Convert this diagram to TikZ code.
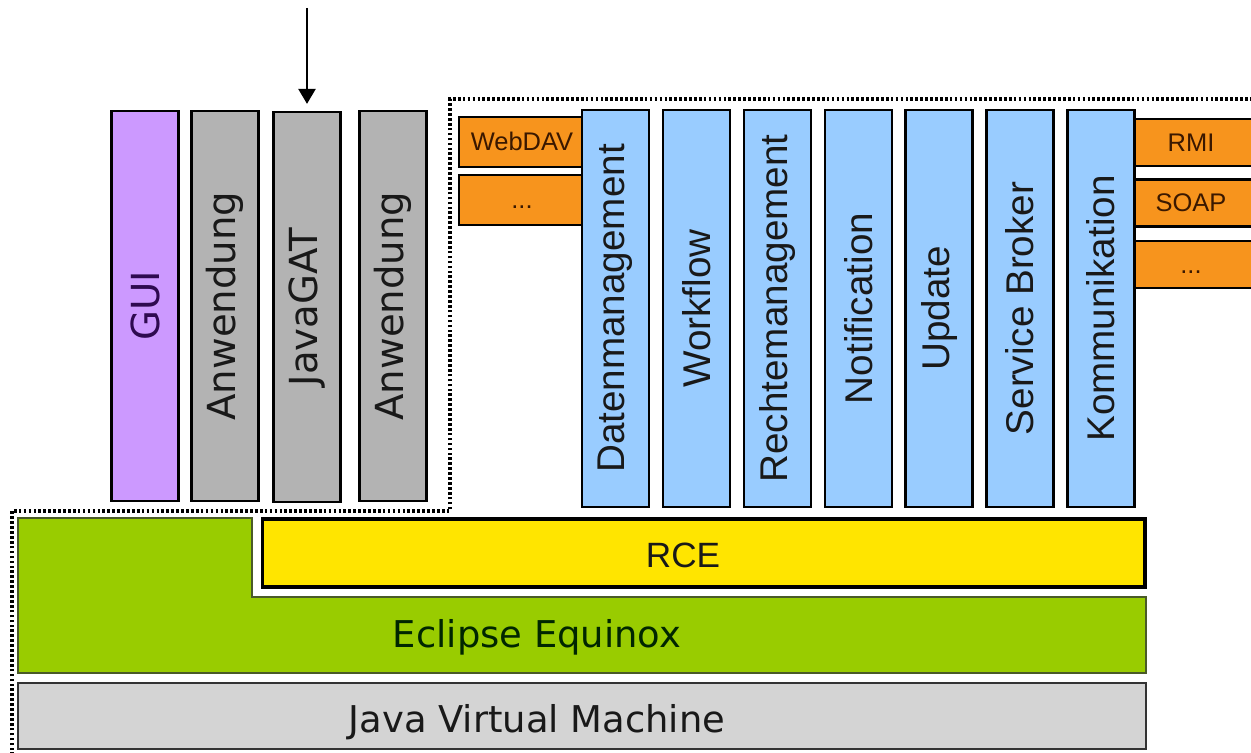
\documentclass[tikz,border=0pt]{standalone}
\usepackage{fontspec}
\usepackage{graphicx}
\usepackage{tikz}
\usetikzlibrary{arrows.meta}
\newfontfamily\verd{DejaVu Sans}
\newfontfamily\helv{Liberation Sans}
\definecolor{guilila}{HTML}{CC99FF}
\definecolor{guitext}{HTML}{2E0A50}
\definecolor{appgrau}{HTML}{B3B3B3}
\definecolor{dienstblau}{HTML}{99CCFF}
\definecolor{adapterorange}{HTML}{F7941D}
\definecolor{adaptertext}{HTML}{3A1800}
\definecolor{rcegelb}{HTML}{FFE500}
\definecolor{equinoxgruen}{HTML}{99CC00}
\definecolor{equinoxrand}{HTML}{4A5A28}
\definecolor{jvmgrau}{HTML}{D4D4D4}

\tikzset{
  saeule/.style={draw=black,line width=1.3pt,inner sep=0pt,minimum width=1.34cm},
  appsaeule/.style={saeule,minimum height=7.8cm,font=\verd\fontsize{22}{22}\selectfont},
  dienst/.style={saeule,fill=dienstblau,minimum height=7.94cm,text=black!90,font=\helv\fontsize{22}{22}\selectfont},
  adapter/.style={draw=black,line width=1.3pt,fill=adapterorange,inner sep=0pt,text height=10pt,text depth=0pt,text=adaptertext,font=\helv\fontsize{14.5}{14.5}\selectfont},
  schicht/.style={font=\verd\fontsize{21}{21}\selectfont,anchor=base},
  grenze/.style={line width=1.8pt,dash pattern=on 1.5pt off 1.3pt}
}

\begin{document}
\begin{tikzpicture}[x=0.02cm,y=-0.02cm,>={Triangle[width=9.6pt,length=8.5pt]}]
\useasboundingbox (0,0) rectangle (1251,753);
\clip (0,0) rectangle (1251,753);

% Grenze
\draw[grenze] (12,760) -- (12,511) -- (450,511) -- (450,99) -- (1260,99);

% Anwendungen
\node[appsaeule,fill=guilila,text=guitext] (gui) at (145,306) {\rotatebox{90}{GUI}};
\node[appsaeule,fill=appgrau,text=black!90] (anw1) at (225,306) {\rotatebox{90}{Anwendung}};
\node[appsaeule,fill=appgrau,text=black!90] (javagat) at (307,307) {\rotatebox{90}{JavaGAT}};
\node[appsaeule,fill=appgrau,text=black!90] (anw2) at (393,306) {\rotatebox{90}{Anwendung}};

\coordinate (oben) at (307,8);
\draw[->,line width=1.5pt,shorten >=0.14cm] (oben) -- (javagat.north);

% Adapter
\node[adapter,minimum width=2.52cm,minimum height=1cm] (webdav) at (522,142) {WebDAV};
\node[adapter,minimum width=2.52cm,minimum height=1cm] (datmehr) at (522,200) {...};
\node[adapter,minimum width=2.6cm,minimum height=0.94cm] (rmi) at (1191,142.5) {RMI};
\node[adapter,minimum width=2.6cm,minimum height=0.94cm] (soap) at (1191,203) {SOAP};
\node[adapter,minimum width=2.6cm,minimum height=0.94cm] (kommehr) at (1191,264.5) {...};

% Dienste
\node[dienst] (daten) at (615.5,308.5) {\rotatebox{90}{Datenmanagement}};
\node[dienst] (workflow) at (696.4,308.5) {\rotatebox{90}{Workflow}};
\node[dienst] (rechte) at (777.3,308.5) {\rotatebox{90}{Rechtemanagement}};
\node[dienst] (notif) at (858.2,308.5) {\rotatebox{90}{Notification}};
\node[dienst] (update) at (939.1,308.5) {\rotatebox{90}{Update}};
\node[dienst] (broker) at (1020,308.5) {\rotatebox{90}{Service Broker}};
\node[dienst] (komm) at (1100.9,308.5) {\rotatebox{90}{Kommunikation}};

% Basis
\node[draw=black,line width=1.8pt,fill=rcegelb,minimum width=17.66cm,minimum height=1.36cm] (rce) at (703.5,553) {};
\node[font=\helv\fontsize{20}{20}\selectfont,anchor=base,text=black!90] (rcelabel) at (683,567) {RCE};
\filldraw[draw=equinoxrand,line width=0.8pt,fill=equinoxgruen] (18,518) -- (252,518) -- (252,597) -- (1146,597) -- (1146,673) -- (18,673) -- cycle;
\node[schicht,text=black!85!green] (equinox) at (537,647) {Eclipse Equinox};
\node[draw=black!80,line width=0.8pt,fill=jvmgrau,minimum width=22.56cm,minimum height=1.32cm] (jvm) at (582,716) {};
\node[schicht,text=black!90] (jvmlabel) at (537,732) {Java Virtual Machine};
\end{tikzpicture}
\end{document}
